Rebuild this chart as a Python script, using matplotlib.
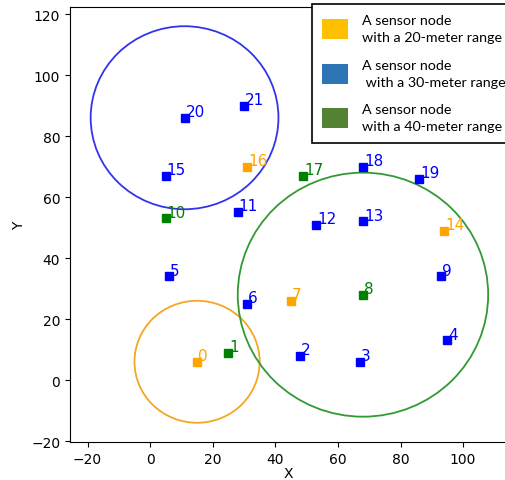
import matplotlib.pyplot as plt
from matplotlib.patches import Patch

# node positions and sensing range (20/30/40 m)
xs = [15, 25, 48, 67, 95, 6, 31, 45, 68, 93, 5, 28, 53, 68, 94, 5, 31, 49, 68, 86, 11, 30]
ys = [6, 9, 8, 6, 13, 34, 25, 26, 28, 34, 53, 55, 51, 52, 49, 67, 70, 67, 70, 66, 86, 90]
ranges = [20, 40, 30, 30, 30, 30, 30, 20, 40, 30, 40, 30, 30, 30, 20, 30, 20, 40, 30, 30, 30, 30]

# circles drawn for the selected nodes
circle_nodes = [0, 20, 8]
circle_radius = [20, 30, 40]

range_color = {20: 'orange', 30: 'blue', 40: 'green'}
circle_color = {20: '#f5a623', 30: '#3333ee', 40: '#339933'}

legend_labels = ['A sensor node\nwith a 20-meter range',
                 'A sensor node\n with a 30-meter range',
                 'A sensor node\nwith a 40-meter range']
legend_colors = ['#ffc000', '#2e75b6', '#548235']

fig = plt.figure(figsize=(5.06, 4.81), dpi=100)
ax = fig.add_axes([70 / 506, 38 / 481, 436 / 506, 435 / 481])

for n, r in zip(circle_nodes, circle_radius):
    ax.add_patch(plt.Circle((xs[n], ys[n]), r, fill=False,
                            color=circle_color[r], linewidth=1.3))

for i, (x, y, r) in enumerate(zip(xs, ys, ranges)):
    c = range_color[r]
    ax.plot(x, y, 's', color=c, markersize=6)
    ax.text(x + 0.3, y + 0.6, str(i), color=c, fontsize=11)

ax.set_xlim(-25.6, 113.7)
ax.set_ylim(-20.3, 122.3)
ax.set_xticks([-20, 0, 20, 40, 60, 80, 100])
ax.set_yticks([-20, 0, 20, 40, 60, 80, 100, 120])
ax.spines['right'].set_visible(False)
ax.set_xlabel('X', labelpad=0)
ax.set_ylabel('Y')

handles = [Patch(facecolor=c, edgecolor='none') for c in legend_colors]
leg = fig.legend(handles, legend_labels, loc='upper left',
                 bbox_to_anchor=(312 / 506, 1 - 5 / 481),
                 fancybox=False, edgecolor='black', framealpha=1,
                 handlelength=1.8, handleheight=1.8, labelspacing=1.1,
                 borderpad=0.7, borderaxespad=0, handletextpad=1.0,
                 prop={'family': 'Lato', 'size': 10.3})
for t in leg.get_texts():
    t.set_linespacing(1.5)
leg.get_frame().set_linewidth(1.2)

fig.savefig('out.png', dpi=100)
